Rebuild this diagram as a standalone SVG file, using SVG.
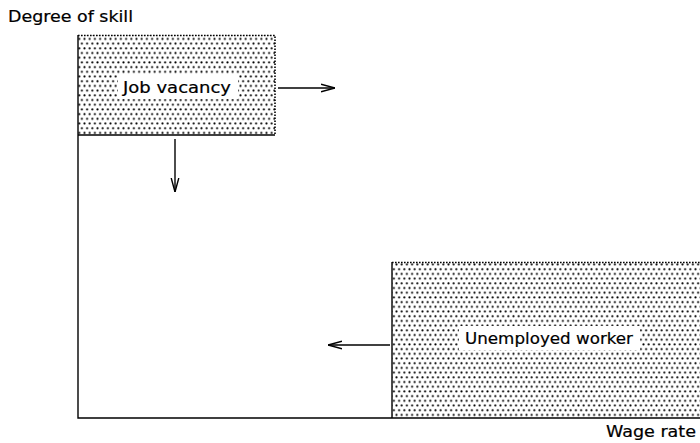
<svg xmlns="http://www.w3.org/2000/svg" width="700" height="443" viewBox="0 0 700 443">
<style>
.lbl{font-family:"DejaVu Sans","Liberation Sans",sans-serif;font-size:15px;fill:#000;stroke:#000;stroke-width:0.2}
.ln{stroke:#000;stroke-width:1.4;fill:none}
.edge{stroke:#000;stroke-width:1.6;stroke-dasharray:1.6 1.4;fill:none}
</style>
<defs>
<pattern id="dots" x="0" y="0" width="5.2" height="9.4" patternUnits="userSpaceOnUse">
<circle cx="1.3" cy="1.3" r="1.05" fill="#000"/>
<circle cx="3.9" cy="6" r="1.05" fill="#000"/>
</pattern>
<marker id="arr" viewBox="0 0 14 10" refX="14" refY="5" markerWidth="14" markerHeight="10" markerUnits="userSpaceOnUse" orient="auto">
<path d="M0,1.2 L14,5 L0,8.8" fill="none" stroke="#000" stroke-width="1.4"/>
</marker>
</defs>
<rect width="700" height="443" fill="#fff"/>
<text class="lbl" x="8" y="22" textLength="125" lengthAdjust="spacingAndGlyphs">Degree of skill</text>
<text class="lbl" x="606" y="437" textLength="90" lengthAdjust="spacingAndGlyphs">Wage rate</text>
<g id="axes">
<path class="ln" d="M78,35 V418 H700"/>
</g>
<g id="job-vacancy">
<rect x="78" y="35" width="197" height="100" fill="url(#dots)"/>
<path class="edge" d="M78,35.5 H275 V135"/>
<path class="ln" d="M78,135 H275"/>
<rect x="118" y="75" width="120" height="24" fill="#fff"/>
<text class="lbl" x="123" y="93" font-size="16" textLength="108" lengthAdjust="spacingAndGlyphs">Job vacancy</text>
</g>
<g id="unemployed-worker">
<rect x="392" y="262" width="308" height="156" fill="url(#dots)"/>
<path class="edge" d="M392,262.5 H700"/>
<path class="ln" d="M392,262 V418"/>
<rect x="459" y="326" width="181" height="24" fill="#fff"/>
<text class="lbl" x="465" y="344" font-size="16" textLength="168" lengthAdjust="spacingAndGlyphs">Unemployed worker</text>
</g>
<g id="connectors">
<path class="ln" d="M278,88 H335" marker-end="url(#arr)"/>
<path class="ln" d="M175,139 V192" marker-end="url(#arr)"/>
<path class="ln" d="M390,345 H328" marker-end="url(#arr)"/>
</g>
</svg>
